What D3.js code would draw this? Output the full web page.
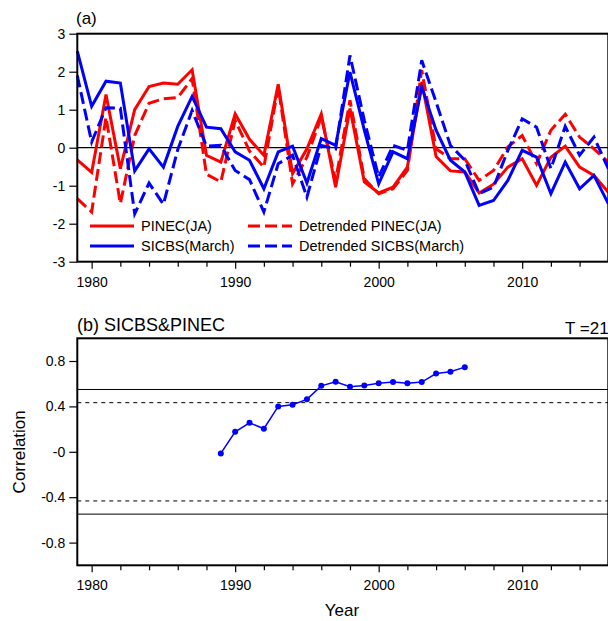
<!DOCTYPE html>
<html>
<head>
<meta charset="utf-8">
<script src="https://cdn.jsdelivr.net/npm/d3@7"></script>
<style>
  body { margin: 0; background: #fff; }
  text { font-family: "Liberation Sans", Arial, sans-serif; }
</style>
</head>
<body>
<svg id="chart" width="608" height="621"></svg>
<script>
// years 1979..2016
const years = d3.range(1979, 2017);

const pinec = [-0.32, -0.65, 1.40, -0.55, 1.00, 1.61, 1.70, 1.67, 2.05, -0.20,
               -0.38, 0.89, 0.22, -0.20, 1.67, -0.68, -0.03, 0.89, -1.04, 1.03,
               -0.90, -1.19, -1.04, -0.51, 1.73, -0.23, -0.61, -0.64, -1.19, -0.96,
               -0.51, -0.29, -0.99, -0.25, 0.04, -0.51, -0.73, -1.17];
const pinec_dt = [-1.34, -1.69, 0.80, -1.47, 0.32, 1.17, 1.29, 1.32, 1.82, -0.70,
                  -0.90, 0.72, -0.09, -0.51, 1.60, -0.95, -0.25, 0.81, -0.86, 1.25,
                  -0.82, -1.21, -1.08, -0.60, 2.04, -0.03, -0.29, -0.29, -0.86, -0.60,
                  0.02, 0.32, -0.42, 0.46, 0.88, 0.28, -0.03, -0.38];
const sicbs = [2.54, 1.09, 1.75, 1.70, -0.61, -0.03, -0.51, 0.56, 1.35, 0.54,
               0.50, -0.11, -0.33, -1.08, -0.11, 0.04, -0.93, 0.24, 0.06, 1.99,
               0.46, -0.95, -0.11, -0.29, 1.60, 0.46, -0.33, -0.64, -1.52, -1.39,
               -0.86, -0.07, -0.25, -1.21, -0.38, -1.08, -0.73, -1.47];
const sicbs_dt = [1.90, 0.15, 1.05, 1.04, -1.74, -0.93, -1.49, -0.05, 0.98, 0.04,
                  0.06, -0.60, -0.84, -1.69, -0.42, -0.20, -1.30, 0.06, -0.03, 2.43,
                  0.72, -0.77, 0.06, -0.07, 2.30, 1.20, 0.06, -0.33, -1.21, -1.04,
                  -0.07, 0.76, 0.54, -0.55, 0.56, -0.20, 0.28, -0.55];

// running correlation (T = 21)
const corr_years = d3.range(1989, 2007);
const corr = [-0.014, 0.176, 0.256, 0.203, 0.400, 0.414, 0.462, 0.581, 0.617, 0.573,
              0.585, 0.603, 0.614, 0.603, 0.614, 0.690, 0.705, 0.746];
const sig_levels = [0.433, 0.549];

const ticks_a = [3, 2, 1, 0, -1, -2, -3];
const ticks_b = [0.8, 0.4, 0, -0.4, -0.8];
const ticks_b_labels = ["0.8", "0.4", "-0", "-0.4", "-0.8"];
const year_ticks = [1980, 1990, 2000, 2010];

const series = [
    {name: "PINEC(JA)", values: pinec, color: "#ff0000", dash: null},
    {name: "Detrended PINEC(JA)", values: pinec_dt, color: "#ff0000", dash: "12,5"},
    {name: "SICBS(March)", values: sicbs, color: "#0000ff", dash: null},
    {name: "Detrended SICBS(March)", values: sicbs_dt, color: "#0000ff", dash: "12,5"}
];

let svg = d3.select("#chart");

const left = 77.3, right = 608.3;
const x = d3.scaleLinear().domain([1979, 2016]).range([left, right]);

function draw_xaxis(g, ybottom)
{
    g.append("g")
        .attr("transform", `translate(0,${ybottom})`)
        .call(d3.axisBottom(x).tickValues(d3.range(1980, 2017, 2).filter(d => d % 10 != 0))
            .tickSize(5).tickFormat(""))
        .call(a => a.select(".domain").remove())
        .call(a => a.selectAll("line").attr("stroke-width", 1.2));
    g.append("g")
        .attr("transform", `translate(0,${ybottom})`)
        .call(d3.axisBottom(x).tickValues(year_ticks).tickSize(7).tickPadding(8)
            .tickFormat(d => String(d)))
        .call(a => a.select(".domain").remove())
        .call(a => a.selectAll("line").attr("stroke-width", 1.2))
        .call(a => a.selectAll("text").attr("font-size", 14).attr("fill", "#000"));
}

function draw_frame(g, y)
{
    g.append("rect")
        .attr("x", left).attr("y", y.range()[1])
        .attr("width", right - left).attr("height", y.range()[0] - y.range()[1])
        .attr("fill", "none").attr("stroke", "#000").attr("stroke-width", 2);
}

// ---------- panel (a)
const ya = d3.scaleLinear().domain([-3, 3]).range([261.7, 33.7]);
const ga = svg.append("g");

ga.append("line")
    .attr("x1", left).attr("x2", right)
    .attr("y1", ya(0)).attr("y2", ya(0))
    .attr("stroke", "#000").attr("stroke-width", 1.3);

const line_a = d3.line().x((d, i) => x(years[i])).y(d => ya(d));

ga.append("g")
    .selectAll("path")
    .data(series)
    .join("path")
        .attr("d", d => line_a(d.values))
        .attr("fill", "none")
        .attr("stroke", d => d.color)
        .attr("stroke-width", 3)
        .attr("stroke-dasharray", d => d.dash);

// legend
const legend = ga.append("g")
    .selectAll("g")
    .data(series)
    .join("g")
        .attr("transform", (d, i) => `translate(${i % 2 ? 248 : 90},${i < 2 ? 226 : 246})`);
legend.append("line")
    .attr("x1", 0).attr("x2", 44)
    .attr("stroke", d => d.color)
    .attr("stroke-width", 3)
    .attr("stroke-dasharray", d => d.dash);
legend.append("text")
    .attr("x", 51).attr("dy", "0.35em")
    .attr("font-size", 14.5)
    .text(d => d.name);

ga.append("g")
    .attr("transform", `translate(${left},0)`)
    .call(d3.axisLeft(ya).tickValues(ticks_a).tickSize(8).tickPadding(4).tickFormat(d => String(d)))
    .call(a => a.select(".domain").remove())
    .call(a => a.selectAll("line").attr("stroke-width", 1.2))
    .call(a => a.selectAll("text").attr("font-size", 14).attr("fill", "#000"));
draw_xaxis(ga, ya.range()[0]);
draw_frame(ga, ya);

ga.append("text").attr("x", 76).attr("y", 24).attr("font-size", 17).text("(a)");

// ---------- panel (b)
const yb = d3.scaleLinear().domain([-1, 1]).range([565.3, 338.3]);
const gb = svg.append("g");

const levels = sig_levels.flatMap(v => [v, -v]);
gb.append("g")
    .selectAll("line")
    .data(levels)
    .join("line")
        .attr("x1", left).attr("x2", right)
        .attr("y1", d => yb(d)).attr("y2", d => yb(d))
        .attr("stroke", "#000")
        .attr("stroke-width", 1)
        .attr("stroke-dasharray", d => Math.abs(d) < 0.5 ? "4,4" : null);

gb.append("path")
    .attr("d", d3.line().x((d, i) => x(corr_years[i])).y(d => yb(d))(corr))
    .attr("fill", "none")
    .attr("stroke", "#0000ff")
    .attr("stroke-width", 1.5);
gb.append("g")
    .selectAll("circle")
    .data(corr)
    .join("circle")
        .attr("cx", (d, i) => x(corr_years[i]))
        .attr("cy", d => yb(d))
        .attr("r", 3)
        .attr("fill", "#0000ff");

gb.append("g")
    .attr("transform", `translate(${left},0)`)
    .call(d3.axisLeft(yb).tickValues(ticks_b).tickSize(8).tickPadding(4)
        .tickFormat((d, i) => ticks_b_labels[i]))
    .call(a => a.select(".domain").remove())
    .call(a => a.selectAll("line").attr("stroke-width", 1.2))
    .call(a => a.selectAll("text").attr("font-size", 14).attr("fill", "#000"));
draw_xaxis(gb, yb.range()[0]);
draw_frame(gb, yb);

gb.append("text").attr("x", 77).attr("y", 331).attr("font-size", 18).text("(b) SICBS&PINEC");
gb.append("text").attr("x", 565).attr("y", 334).attr("font-size", 17).text("T =21");

gb.append("text")
    .attr("transform", `translate(25,${yb(0)}) rotate(-90)`)
    .attr("text-anchor", "middle")
    .attr("font-size", 17)
    .text("Correlation");
gb.append("text")
    .attr("x", 342).attr("y", 616)
    .attr("text-anchor", "middle")
    .attr("font-size", 17)
    .text("Year");
</script>
</body>
</html>
